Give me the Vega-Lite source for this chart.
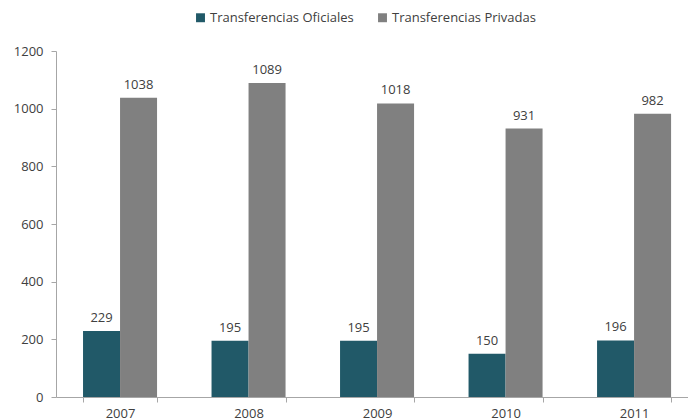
{
  "$schema": "https://vega.github.io/schema/vega-lite/v6.json",
  "autosize": {"type": "none"},
  "padding": {"left": 56, "top": 51, "right": 0, "bottom": 23},
  "width": 632,
  "height": 346,
  "background": "white",
  "config": {"view": {"stroke": null}, "font": "Open Sans"},
  "data": {"values": [
    {"year": "2007", "serie": "Transferencias Oficiales", "valor": 229},
    {"year": "2007", "serie": "Transferencias Privadas", "valor": 1038},
    {"year": "2008", "serie": "Transferencias Oficiales", "valor": 195},
    {"year": "2008", "serie": "Transferencias Privadas", "valor": 1089},
    {"year": "2009", "serie": "Transferencias Oficiales", "valor": 195},
    {"year": "2009", "serie": "Transferencias Privadas", "valor": 1018},
    {"year": "2010", "serie": "Transferencias Oficiales", "valor": 150},
    {"year": "2010", "serie": "Transferencias Privadas", "valor": 931},
    {"year": "2011", "serie": "Transferencias Oficiales", "valor": 196},
    {"year": "2011", "serie": "Transferencias Privadas", "valor": 982}
  ]},
  "encoding": {
    "x": {"field": "year", "type": "nominal", "title": null,
      "scale": {"paddingInner": 0.424, "paddingOuter": 0.171, "align": 0.615},
      "axis": {"labelAngle": 0, "labelFontSize": 13, "labelColor": "#404040", "labelPadding": 5,
        "domainColor": "#a6a6a6", "tickColor": "#a6a6a6", "tickBand": "extent", "tickSize": 5}},
    "xOffset": {"field": "serie", "type": "nominal", "scale": {"paddingInner": 0, "paddingOuter": 0}},
    "y": {"field": "valor", "type": "quantitative", "title": null,
      "scale": {"domain": [0, 1200], "nice": false},
      "axis": {"values": [0, 200, 400, 600, 800, 1000, 1200], "format": "d", "grid": false, "labelFontSize": 13,
        "labelColor": "#404040", "domainColor": "#a6a6a6", "tickColor": "#a6a6a6", "tickSize": 5, "labelPadding": 8}}
  },
  "layer": [
    {"mark": {"type": "bar"},
     "encoding": {"color": {"field": "serie", "type": "nominal",
       "scale": {"domain": ["Transferencias Oficiales", "Transferencias Privadas"], "range": ["#215968", "#808080"]},
       "legend": {"title": null, "orient": "none", "direction": "horizontal", "legendX": 138, "legendY": -40,
         "symbolType": "square", "symbolSize": 80, "symbolStrokeWidth": 0, "labelFontSize": 13, "labelColor": "#404040",
         "columnPadding": 22, "labelOffset": 3}}}},
    {"mark": {"type": "text", "baseline": "bottom", "dy": -6, "fontSize": 13, "color": "#404040"},
     "encoding": {"text": {"field": "valor", "type": "quantitative"}}}
  ]
}
